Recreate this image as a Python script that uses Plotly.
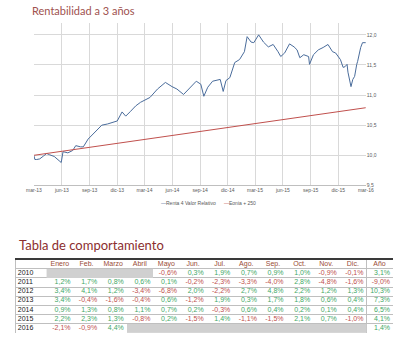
import plotly.graph_objects as go

# ---------------- chart data ----------------
dates = ["2013-03-01","2013-03-04","2013-03-10","2013-03-20","2013-04-02","2013-04-12","2013-04-21",
         "2013-05-07","2013-05-23","2013-05-30","2013-06-05","2013-06-21","2013-07-07","2013-07-17",
         "2013-08-02","2013-08-11","2013-08-27","2013-09-18","2013-10-11","2013-10-30","2013-11-15",
         "2013-12-01","2013-12-17","2013-12-29","2014-01-14","2014-01-31","2014-02-16","2014-02-25",
         "2014-03-19","2014-04-13","2014-05-09","2014-05-31","2014-06-16","2014-07-08","2014-08-03",
         "2014-08-19","2014-09-03","2014-09-13","2014-09-26","2014-10-12","2014-11-06","2014-11-16",
         "2014-11-25","2014-12-08","2014-12-24","2015-01-09","2015-01-25","2015-02-03","2015-02-16",
         "2015-02-25","2015-03-13","2015-03-29","2015-04-14","2015-04-30","2015-05-16","2015-05-25",
         "2015-06-07","2015-06-23","2015-07-08","2015-07-18","2015-07-27","2015-08-09","2015-08-25",
         "2015-08-28","2015-09-10","2015-09-26","2015-10-12","2015-10-28","2015-11-12","2015-11-22",
         "2015-12-08","2015-12-17","2015-12-23","2015-12-30","2016-01-02","2016-01-12","2016-01-18",
         "2016-01-24","2016-01-31","2016-02-03","2016-02-13","2016-02-19","2016-03-01"]
renta = [9.99,9.93,9.93,9.94,9.99,10.03,10.01,
         9.98,9.91,9.88,10.06,10.04,10.08,10.16,
         10.14,10.14,10.27,10.39,10.50,10.52,10.55,
         10.57,10.72,10.65,10.73,10.82,10.88,10.90,
         10.96,11.10,11.21,11.14,11.10,11.01,11.14,
         11.23,11.18,10.98,11.13,11.23,11.26,11.06,
         11.24,11.29,11.54,11.59,11.72,11.97,11.88,
         11.87,12.00,11.88,11.80,11.84,11.72,11.64,
         11.70,11.85,11.80,11.75,11.62,11.67,11.64,
         11.51,11.67,11.75,11.79,11.84,11.72,11.70,
         11.59,11.46,11.47,11.51,11.38,11.14,11.26,
         11.31,11.51,11.56,11.79,11.87,11.87]
eonia_dates = ["2013-03-01","2014-03-01","2015-03-01","2016-03-01"]
eonia = [10.00,10.26,10.52,10.79]

tick_dates = ["2013-03-01","2013-06-01","2013-09-01","2013-12-01","2014-03-01","2014-06-01","2014-09-01",
              "2014-12-01","2015-03-01","2015-06-01","2015-09-01","2015-12-01","2016-03-01"]
tick_text = ["mar-13","jun-13","sep-13","dic-13","mar-14","jun-14","sep-14","dic-14",
             "mar-15","jun-15","sep-15","dic-15","mar-16"]
y_ticks = [9.5,10.0,10.5,11.0,11.5,12.0]

series_names = ["Renta 4 Valor Relativo","Eonia + 250"]

# ---------------- table data ----------------
years = ["2010","2011","2012","2013","2014","2015","2016"]
col_headers = ["Enero","Feb.","Marzo","Abril","Mayo","Jun.","Jul.","Ago.","Sep.","Oct.","Nov.","Dic.","Año"]
r2010 = [None,None,None,None,-0.6,0.3,1.9,0.7,0.9,1.0,-0.9,-0.1]
r2011 = [1.2,1.7,0.8,0.6,0.1,-0.2,-2.3,-3.3,-4.0,2.8,-4.8,-1.6]
r2012 = [3.4,4.1,1.2,-3.4,-6.8,2.0,-2.2,2.7,4.8,2.2,1.2,1.3]
r2013 = [3.4,-0.4,-1.6,-0.4,0.6,-1.2,1.9,0.3,1.7,1.8,0.6,0.4]
r2014 = [0.9,1.3,0.8,1.1,0.7,0.2,-0.3,0.6,0.4,0.2,0.1,0.4]
r2015 = [2.2,2.3,1.3,-0.8,0.2,-1.5,1.4,-1.1,-1.5,2.1,0.7,-1.0]
r2016 = [-2.1,-0.9,4.4,None,None,None,None,None,None,None,None,None]
annual = [3.1,-9.0,10.3,7.3,6.5,4.1,1.4]

monthly = [r2010,r2011,r2012,r2013,r2014,r2015,r2016]

# ---------------- styles ----------------
W, H = 420, 349
BLUE = "#4A6C9B"
RED = "#C0504D"
GREEN = "#3FA866"
NEG = "#C0504D"
GRID = "#D9D9D9"
FONT = "Liberation Sans"

fig = go.Figure()

fig.add_trace(go.Scatter(x=dates, y=renta, mode="lines", name=series_names[0],
                         line=dict(color=BLUE, width=1), showlegend=False, hoverinfo="skip"))
fig.add_trace(go.Scatter(x=eonia_dates, y=eonia, mode="lines", name=series_names[1],
                         line=dict(color=RED, width=1), showlegend=False, hoverinfo="skip"))

# ---- table via second axes ----
n_rows = len(years)
gray_z = [[1 if v is None else None for v in row] for row in monthly]
fig.add_trace(go.Heatmap(z=gray_z, x=[i + 0.5 for i in range(12)], y=list(range(1, n_rows + 1)),
                         colorscale=[[0, "#D0D0D0"], [1, "#D0D0D0"]], showscale=False,
                         hoverinfo="skip", xaxis="x2", yaxis="y2"))

# header
fig.add_trace(go.Scatter(x=[i + 0.5 for i in range(len(col_headers))], y=[0] * len(col_headers),
                         mode="text", text=col_headers, textposition="middle center",
                         textfont=dict(family=FONT, size=7, color="#9A4B35"),
                         showlegend=False, hoverinfo="skip", xaxis="x2", yaxis="y2"))
# years
fig.add_trace(go.Scatter(x=[-1.08] * n_rows, y=list(range(1, n_rows + 1)), mode="text", text=years,
                         textposition="middle right", textfont=dict(family=FONT, size=7, color="#1a1a1a"),
                         showlegend=False, hoverinfo="skip", xaxis="x2", yaxis="y2"))


def fmt(v):
    return ("%.1f" % v).replace(".", ",") + "%"


tx, ty, tt, tc = [], [], [], []
for r, row in enumerate(monthly):
    vals = list(row) + [annual[r]]
    for c, v in enumerate(vals):
        if v is None:
            continue
        tx.append(c + 1 - 0.1)
        ty.append(r + 1)
        tt.append(fmt(v))
        tc.append(GREEN if v >= 0 else NEG)
fig.add_trace(go.Scatter(x=tx, y=ty, mode="text", text=tt, textposition="middle left",
                         textfont=dict(family=FONT, size=7, color=tc),
                         showlegend=False, hoverinfo="skip", xaxis="x2", yaxis="y2"))

fig.update_layout(
    width=W, height=H, margin=dict(l=0, r=0, t=0, b=0),
    paper_bgcolor="white", plot_bgcolor="white",
    separators=",.",
    font=dict(family=FONT, color="#595959"),
    xaxis=dict(domain=[27 / W, 372 / W], type="date", range=[tick_dates[0], tick_dates[-1]],
               tickvals=tick_dates, ticktext=tick_text, tickfont=dict(size=5, color="#595959"),
               showgrid=True, gridcolor=GRID, gridwidth=1, showline=True, linecolor="#BFBFBF",
               ticks="", zeroline=False, anchor="y"),
    yaxis=dict(domain=[1 - 187 / H, 1 - 23 / H], range=[9.5, 12.2], side="right",
               tickvals=y_ticks, tickformat=".1f", tickfont=dict(size=5, color="#595959"),
               showgrid=True, gridcolor=GRID, gridwidth=1, zeroline=False, ticks="",
               anchor="x"),
    xaxis2=dict(domain=[8 / W, 400 / W], range=[-1.16, 13.0], side="top",
                tickvals=[12], showticklabels=False, ticks="", showgrid=True, gridcolor="#BFBFBF",
                showline=True, linecolor="#3a3a3a", linewidth=1.5, zeroline=False, anchor="y2"),
    yaxis2=dict(domain=[1 - 336 / H, 1 - 262 / H], range=[7.55, -0.5],
                tickvals=[k + 0.5 for k in range(n_rows + 1)], showticklabels=False, ticks="",
                showgrid=True, gridcolor="#BFBFBF", showline=True, linecolor="#BFBFBF",
                zeroline=False, anchor="x2"),
    annotations=[
        dict(text="Rentabilidad a 3 años", x=23 / W, y=1 - 11 / H, xref="paper", yref="paper",
             xanchor="left", yanchor="middle", showarrow=False,
             font=dict(family="Lato", size=11, color="#A0524F")),
        dict(text="Tabla de comportamiento", x=9 / W, y=1 - 247 / H, xref="paper", yref="paper",
             xanchor="left", yanchor="middle", showarrow=False,
             font=dict(family="Lato", size=13, color="#8B2E2E")),
        dict(text='<span style="color:%s">—</span>%s' % (BLUE, series_names[0]),
             x=157 / W, y=1 - 205 / H, xref="paper", yref="paper", xanchor="left", yanchor="middle",
             showarrow=False, font=dict(family=FONT, size=5, color="#595959")),
        dict(text='<span style="color:%s">—</span>%s' % (RED, series_names[1]),
             x=222 / W, y=1 - 205 / H, xref="paper", yref="paper", xanchor="left", yanchor="middle",
             showarrow=False, font=dict(family=FONT, size=5, color="#595959")),
    ],
)

fig.write_html("out.html")
